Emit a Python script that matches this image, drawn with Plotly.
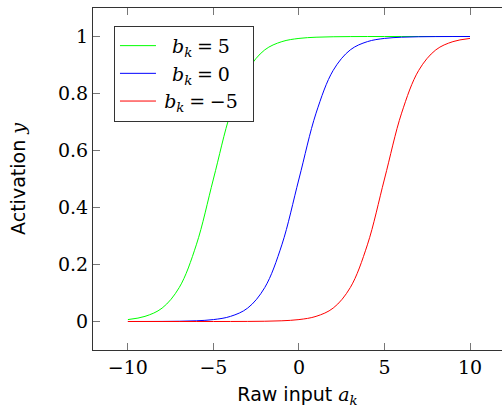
import plotly.graph_objects as go

# Raw input a_k (x positions)
a_k = [-10, -9, -8, -7, -6, -5, -4, -3, -2, -1, 0, 1, 2, 3, 4, 5, 6, 7, 8, 9, 10]

# Activation values
y_bk_pos5 = [0.0067, 0.018, 0.047, 0.119, 0.269, 0.5, 0.731, 0.881, 0.953, 0.982, 0.9933,
             0.9975, 0.9991, 0.9997, 0.9999, 1.0, 1.0, 1.0, 1.0, 1.0, 1.0]
y_bk_0 = [0.0, 0.0001, 0.0003, 0.0009, 0.0025, 0.0067, 0.018, 0.047, 0.119, 0.269, 0.5,
          0.731, 0.881, 0.953, 0.982, 0.9933, 0.9975, 0.9991, 0.9997, 0.9999, 1.0]
y_bk_neg5 = [0.0, 0.0, 0.0, 0.0, 0.0, 0.0, 0.0001, 0.0003, 0.0009, 0.0025, 0.0067,
             0.018, 0.047, 0.119, 0.269, 0.5, 0.731, 0.881, 0.953, 0.982, 0.9933]

series_names = [
    "\u2005\u2006\u2006<i>b</i><sub><i>k</i></sub>\u2005=\u20055\u2002",
    "\u2005\u2006\u2006<i>b</i><sub><i>k</i></sub>\u2005=\u20050\u2002",
    "\u2006<i>b</i><sub><i>k</i></sub>\u2005=\u2005\u22125\u2002",
]
series_colors = ["#00ff00", "#0000ff", "#ff0000"]

x_tickvals = [-10, -5, 0, 5, 10]
x_ticktext = ["\u221210", "\u22125", "0", "5", "10"]
y_tickvals = [0, 0.2, 0.4, 0.6, 0.8, 1]
y_ticktext = ["0", "0.2", "0.4", "0.6", "0.8", "1"]

fig = go.Figure()
for ys, name, col in zip([y_bk_pos5, y_bk_0, y_bk_neg5], series_names, series_colors):
    fig.add_trace(go.Scatter(x=a_k, y=ys, mode="lines", name=name,
                             line=dict(color=col, width=1, shape="spline", smoothing=1)))

serif = "DejaVu Serif, serif"
sans = "DejaVu Sans, sans-serif"

fig.update_layout(
    width=502, height=410,
    margin=dict(l=93, r=0, t=8, b=60),
    plot_bgcolor="white", paper_bgcolor="white",
    font=dict(family=serif, size=19, color="black"),
    showlegend=True,
    legend=dict(x=0.0513, y=0.948, xanchor="left", yanchor="top",
                bgcolor="white", bordercolor="#333", borderwidth=1,
                font=dict(family=serif, size=19), tracegroupgap=0, itemwidth=36),
    xaxis=dict(range=[-12.04, 11.87], tickvals=x_tickvals, ticktext=x_ticktext,
               ticks="inside", ticklen=7, tickcolor="#777", tickwidth=1,
               showline=True, linecolor="#333", linewidth=1, mirror="ticks",
               showgrid=False, zeroline=False,
               tickfont=dict(family=serif, size=19),
               title=dict(text="Raw input <span style=\"font-family:'DejaVu Serif'\"><i>a</i><sub><i>k</i></sub></span>",
                          font=dict(family=sans, size=19), standoff=10)),
    yaxis=dict(range=[-0.1, 1.1], tickvals=y_tickvals, ticktext=y_ticktext,
               ticks="inside", ticklen=7, tickcolor="#777", tickwidth=1,
               showline=True, linecolor="#333", linewidth=1, mirror=False,
               showgrid=False, zeroline=False,
               tickfont=dict(family=serif, size=19),
               title=dict(text="Activation <span style=\"font-family:'DejaVu Serif'\"><i>y</i></span>",
                          font=dict(family=sans, size=19), standoff=27)),
    yaxis2=dict(range=[-0.1, 1.1], overlaying="y", side="right", tickvals=y_tickvals,
                ticks="inside", ticklen=7, tickcolor="#777", tickwidth=1,
                showticklabels=False, showline=False, showgrid=False, zeroline=False),
)

fig.write_html("out.html", config={"displayModeBar": False})
with open("out.html", encoding="utf-8") as f:
    html = f.read()
html = html.replace("<head>", "<head><style>html,body{margin:0;padding:0;overflow:hidden;}</style>", 1)
with open("out.html", "w", encoding="utf-8") as f:
    f.write(html)
